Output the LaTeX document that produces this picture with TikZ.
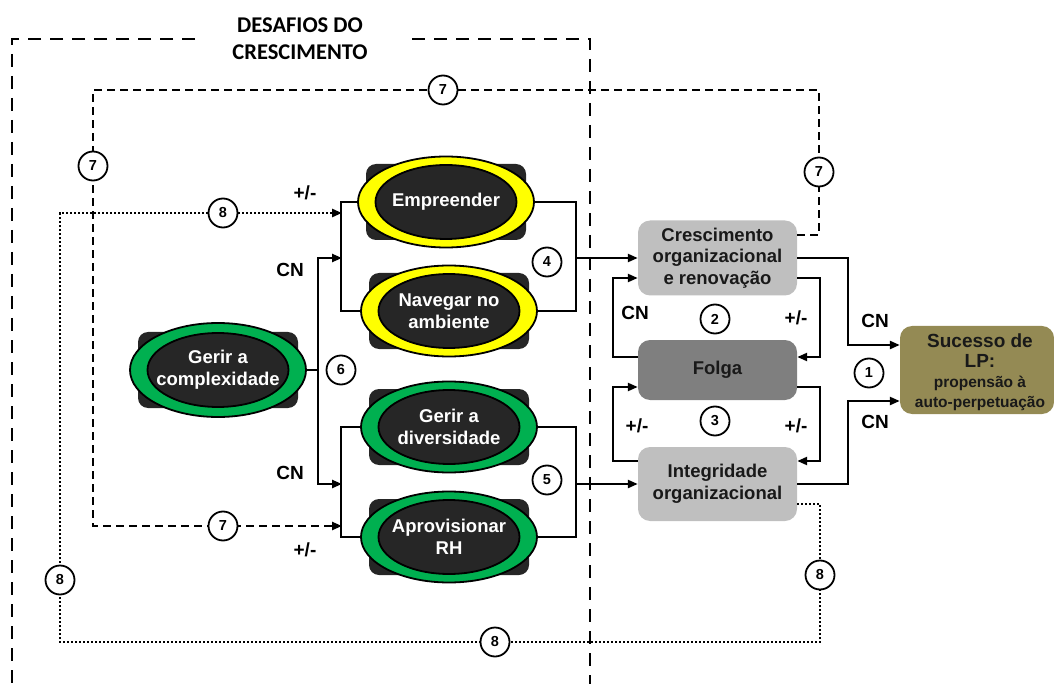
\documentclass[tikz,border=0pt]{standalone}
\usepackage{fontspec}
\setmainfont{Liberation Sans}
\newfontfamily\titlefont{Carlito}[BoldFont={Carlito Bold}]
\usetikzlibrary{arrows.meta,shapes.geometric,calc}

\definecolor{ringgreen}{HTML}{00B050}
\definecolor{ringyellow}{HTML}{FFFF00}
\definecolor{corefill}{HTML}{262626}
\definecolor{lightbox}{HTML}{BFBFBF}
\definecolor{midbox}{HTML}{7F7F7F}
\definecolor{olivebox}{HTML}{948A54}

\tikzset{
  conn/.style={line width=2.3pt, line join=miter},
  arr/.style={conn, -{Triangle[length=10pt,width=8pt]}},
  dsh/.style={line width=2.3pt, dash pattern=on 8pt off 5pt, -{Triangle[length=10pt,width=8pt]}},
  dotl/.style={line width=2.6pt, dash pattern=on 2pt off 2pt, -{Triangle[length=10pt,width=8pt]}},
  frame/.style={line width=2.3pt, dash pattern=on 13pt off 9pt},
  num/.style={circle, draw, line width=1.8pt, fill=white, minimum size=29pt, inner sep=0pt,
              font=\bfseries\fontsize{14.5}{14.5}\selectfont},
  lbl/.style={font=\bfseries\fontsize{19}{20}\selectfont},
  chalbg/.style={rectangle, rounded corners=10pt, fill=corefill, minimum width=160pt, minimum height=76pt, inner sep=0pt},
  chalring/.style={ellipse, draw, line width=1.8pt, minimum width=176pt, minimum height=91pt, inner sep=0pt},
  chalcore/.style={ellipse, draw, line width=1.8pt, fill=corefill, minimum width=141pt, minimum height=74pt, inner sep=0pt},
  chaltext/.style={text=white, align=center, font=\bfseries\fontsize{18.5}{22}\selectfont},
  stage/.style={rectangle, rounded corners=12pt, minimum width=159pt, align=center,
                font=\bfseries\fontsize{18.5}{21.5}\selectfont, text=black!90},
}

% a growth challenge: dark backing plate, coloured ring, dark core and white label
\newcommand\challenge[5]{%
  \node[chalbg] at (#2) {};
  \node[chalring, fill=#3, #5] (#1) at (#2) {};
  \node[chalcore] at (#2) {};
  \node[chaltext] at (#2) {#4};
}

\begin{document}
\begin{tikzpicture}[x=1pt,y=-1pt]
\useasboundingbox (0,0) rectangle (1054,684);

% frame of the growth challenges with its title
\node[font=\titlefont\bfseries\fontsize{22.5}{27}\selectfont, align=center] (title) at (300,39) {DESAFIOS DO\\CRESCIMENTO};
\draw[frame] (195,39) -- (12,39) -- (12,684);
\draw[frame] (412,39) -- (590,39) -- (590,684);

% challenges
\challenge{cplx}{218,370}{ringgreen}{Gerir a\\complexidade}{minimum height=94pt}
\challenge{emp}{446,202}{ringyellow}{Empreender}{}
\challenge{nav}{449,311}{ringyellow}{Navegar no\\ambiente}{}
\challenge{div}{449,427}{ringgreen}{Gerir a\\diversidade}{}
\challenge{rh}{449,537}{ringgreen}{Aprovisionar\\RH}{}

% organizational states and outcome
\node[stage, fill=lightbox, minimum height=75pt] (cres) at (717.5,258) {Crescimento\\organizacional\\e renovação};
\node[stage, fill=midbox, minimum height=60pt] (folga) at (717.5,370) {Folga};
\node[stage, fill=lightbox, minimum height=74pt] (integ) at (717.5,484) {Integridade\\organizacional};
\node[rectangle, rounded corners=12pt, fill=olivebox, minimum width=154pt, minimum height=88pt] (suc) at (977,370) {};
\node[align=center, text=black!90, font=\bfseries\fontsize{19}{20}\selectfont] (suctxt) at (980,372)
  {Sucesso de\\LP:\\{\fontsize{15.5}{20}\selectfont propensão à}\\{\fontsize{15.5}{20}\selectfont auto-perpetuação}};

% junction points on the brackets
\coordinate (fork) at (318,370);
\coordinate (upin) at (342,258);
\coordinate (loin) at (342,484);
\coordinate (upout) at (575,258);
\coordinate (loout) at (575,484);
\coordinate (in7) at (342,526);
\coordinate (in8) at (342,213);

% complexity feeds both pairs of challenges
\draw[conn] (cplx.east) -- (fork);
\draw[arr] (fork) |- (upin);
\draw[arr] (fork) |- (loin);

% brackets around each pair
\draw[conn] (emp.west) -- ++(-16,0) |- (nav.west);
\draw[conn] (div.west) -- ++(-19,0) |- (rh.west);
\draw[conn] (emp.east) -- ++(41,0) |- (nav.east);
\draw[conn] (div.east) -- ++(38,0) |- (rh.east);

% pairs into the organizational states
\draw[arr] (upout) -- (cres.west);
\draw[arr] (loout) -- (integ.west);

% loops through slack
\draw[arr] ([yshift=-20pt]cres.east) -- ++(23,0) |- ([yshift=13pt]folga.east);
\draw[arr] ([yshift=13pt]folga.west) -- ++(-25,0) |- ([yshift=-20pt]cres.west);
\draw[arr] ([yshift=-17pt]folga.east) -- ++(23,0) |- ([yshift=23pt]integ.east);
\draw[arr] ([yshift=23pt]integ.west) -- ++(-25,0) |- ([yshift=-17pt]folga.west);

% states into long-term success
\draw[arr] (cres.east) -- ++(51,0) |- ([yshift=25pt]suc.west);
\draw[arr] (integ.east) -- ++(51,0) |- ([yshift=-31pt]suc.west);

% feedback 7 (dashed) and 8 (dotted)
\draw[dsh] ([yshift=23pt]cres.east) -- (819,235) -- (819,90) -- (93,90) -- (93,526) -- (in7);
\draw[dotl] ([yshift=-20pt]integ.east) -- (820,504) -- (820,642) -- (60,642) -- (60,213) -- (in8);

% numbered markers
\node[num] (n1) at (869,373) {1};
\node[num] (n2) at (715,319) {2};
\node[num] (n3) at (715,421) {3};
\node[num] (n4) at (547,262) {4};
\node[num] (n5) at (547,480) {5};
\node[num] (n6) at (341,370) {6};
\node[num] (n7a) at (443,90) {7};
\node[num] (n7b) at (93,166) {7};
\node[num] (n7c) at (819,172) {7};
\node[num] (n7d) at (223,526) {7};
\node[num] (n8a) at (223,213) {8};
\node[num] (n8b) at (820,575) {8};
\node[num] (n8c) at (495,642) {8};
\node[num] (n8d) at (60,580) {8};

% polarity labels
\node[lbl] (pmA) at (305,193) {+/-};
\node[lbl] (cnA) at (290,270) {CN};
\node[lbl] (cnB) at (290,473) {CN};
\node[lbl] (pmB) at (305,550) {+/-};
\node[lbl] (cnC) at (635,313) {CN};
\node[lbl] (pmC) at (796,318) {+/-};
\node[lbl] (pmD) at (637,426) {+/-};
\node[lbl] (pmE) at (796,426) {+/-};
\node[lbl] (cnD) at (875,321) {CN};
\node[lbl] (cnE) at (875,422) {CN};
\end{tikzpicture}
\end{document}
